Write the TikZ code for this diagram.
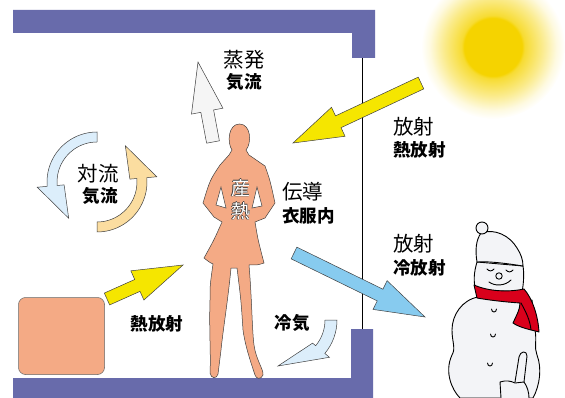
\documentclass[tikz,border=0pt]{standalone}
\usepackage{fontspec}
\setmainfont{Noto Sans CJK JP}
\usetikzlibrary{calc}

\definecolor{wall}{RGB}{104,107,171}
\definecolor{skin}{RGB}{244,170,133}
\definecolor{raysun}{RGB}{245,230,0}
\definecolor{sunyellow}{RGB}{245,211,0}
\definecolor{coldray}{RGB}{135,203,239}
\definecolor{airblue}{RGB}{220,238,251}
\definecolor{airorange}{RGB}{251,221,160}
\definecolor{vapour}{RGB}{245,245,245}
\definecolor{scarf}{RGB}{217,0,27}
\definecolor{snow}{RGB}{243,244,247}

\pgfdeclareradialshading{sunglow}{\pgfpointorigin}{color(0bp)=(sunyellow); color(10bp)=(sunyellow); color(11bp)=(sunyellow!80!white); color(17bp)=(sunyellow!45!white); color(22bp)=(sunyellow!12!white); color(25bp)=(white)}

% block arrow: style, tail, tip
\newcommand{\blockarrow}[3]{%
  \coordinate (ba) at ($(#3)!50pt!(#2)$);
  \draw[#1] ($(#2)!6.5pt!90:(#3)$) -- ($(ba)!6.5pt!90:(#3)$) -- ($(ba)!16pt!90:(#3)$) -- (#3)
    -- ($(ba)!16pt!-90:(#3)$) -- ($(ba)!6.5pt!-90:(#3)$) -- ($(#2)!6.5pt!-90:(#3)$) -- cycle;
}

\tikzset{
  arrline/.style={draw=black!75, line width=0.5pt, line join=miter},
  snowline/.style={draw=black, line width=0.9pt, line join=round, line cap=round},
  main/.style={inner sep=0pt, font=\fontsize{20.5}{24}\selectfont},
  sub/.style={inner sep=0pt, font=\fontsize{17.5}{21}\selectfont\bfseries},
  heater/.style={draw=black!60, line width=0.5pt, fill=skin, rounded corners=7pt,
    minimum width=86pt, minimum height=77pt, inner sep=0pt},
}

\begin{document}
\begin{tikzpicture}[x=1pt, y=1pt]
  \useasboundingbox (0,0) rectangle (565,-398);

  % sun
  \shade[shading=sunglow] (493,-47) circle[radius=72pt];

  % room walls and window
  \fill[wall] (13,-10) -- (375,-10) -- (375,-58) -- (352,-58) -- (352,-33) -- (13,-33) -- cycle;
  \fill[wall] (13,-378) -- (351,-378) -- (351,-329) -- (373,-329) -- (373,-398) -- (13,-398) -- cycle;
  \coordinate (wintop) at (362.5,-58);
  \coordinate (winbot) at (362.5,-329);
  \draw[line width=1.2pt] (wintop) -- (winbot);

  % heater
  \node[heater] (heater) at (61.5,-336) {};

  % convection
  \begin{scope}[shift={(97,-182)}]
    \draw[arrline, fill=airblue] (90:50) arc[start angle=90, end angle=185, radius=50pt]
      -- (185:60) -- (232:46) -- (185:33) -- (185:40)
      arc[start angle=185, end angle=90, radius=40pt] -- cycle;
    \draw[arrline, fill=airorange] (270:50) arc[start angle=270, end angle=365, radius=50pt]
      -- (5:60) -- (52:46) -- (5:33) -- (5:40)
      arc[start angle=365, end angle=270, radius=40pt] -- cycle;
  \end{scope}
  \node[main] (conv) at (98,-174) {対流};
  \node[sub] (convair) at (100,-196) {気流};

  % cold air
  \begin{scope}[shift={(285,-320)}]
    \draw[arrline, fill=airblue] (0:52) arc[start angle=0, end angle=-40, radius=52pt]
      -- (-40:58) -- (-7,-46) -- (-40:36) -- (-40:40)
      arc[start angle=-40, end angle=0, radius=40pt] -- cycle;
  \end{scope}

  % person
  \draw[arrline, fill=skin] (232,-150)
    .. controls (227,-143) and (228,-124) .. (239.5,-124)
    .. controls (251,-124) and (252,-143) .. (246,-150)
    -- (249,-155) -- (265,-166)
    .. controls (270,-180) .. (275,-203)
    -- (265,-218) -- (255,-222)
    .. controls (258,-240) .. (264,-263)
    .. controls (258,-265) .. (249,-265)
    .. controls (252,-300) and (252,-330) .. (254,-345)
    .. controls (256,-360) and (264,-370) .. (263,-375)
    .. controls (261,-380) and (256,-379) .. (255,-375)
    .. controls (250,-360) and (245,-345) .. (243,-330)
    .. controls (241,-300) .. (237,-268)
    -- (231,-268)
    .. controls (228,-300) and (223,-330) .. (221,-350)
    -- (218,-374)
    .. controls (217,-379) and (211,-379) .. (210,-373)
    .. controls (211,-355) and (209,-330) .. (210,-300)
    .. controls (210,-285) .. (213,-264)
    .. controls (209,-262) .. (204,-258)
    .. controls (214,-240) .. (222,-222)
    -- (214,-217) -- (203,-203)
    .. controls (210,-180) .. (220,-165)
    -- (229,-155) -- cycle;
  \draw[arrline, fill=white] (221,-187) -- (216,-205) -- (226,-208) -- cycle;
  \draw[arrline, fill=white] (257,-187) -- (262,-206) -- (252,-208) -- cycle;
  \foreach \dx/\dy in {0.45/0, -0.45/0, 0/0.45, 0/-0.45}
    \node[inner sep=0pt, align=center, text=black!75, font=\fontsize{19}{23}\selectfont]
      at (240.5+\dx,-199.5+\dy) {産\\熱};
  \node[inner sep=0pt, align=center, text=white, font=\fontsize{19}{23}\selectfont]
    (body) at (240.5,-199.5) {産\\熱};

  % arrows
  \coordinate (steamtail) at (213,-142);
  \coordinate (steamtip) at (198,-62);
  \blockarrow{arrline, fill=vapour}{steamtail}{steamtip}
  \coordinate (suntail) at (421,-83);
  \coordinate (suntip) at (293,-143);
  \blockarrow{arrline, fill=raysun}{suntail}{suntip}
  \coordinate (heattail) at (107,-299);
  \coordinate (heattip) at (183,-265);
  \blockarrow{arrline, fill=raysun}{heattail}{heattip}
  \coordinate (coldtail) at (294,-253);
  \coordinate (coldtip) at (425,-317);
  \blockarrow{arrline, fill=coldray}{coldtail}{coldtip}

  % labels
  \node[main] (steam) at (244,-60) {蒸発};
  \node[sub] (steamair) at (244,-82) {気流};
  \node[sub] (heatrad) at (157,-324) {熱放射};
  \node[main, anchor=west] (cond) at (282,-192) {伝導};
  \node[sub, anchor=west] (clothes) at (282,-216) {衣服内};
  \node[sub] (cool) at (292,-323) {冷気};
  \node[main, anchor=west] (rad) at (393,-127) {放射};
  \node[sub, anchor=west] (radheat) at (393,-150) {熱放射};
  \node[main, anchor=west] (radb) at (393,-244) {放射};
  \node[sub, anchor=west] (radcold) at (393,-268) {冷放射};

  % snowman
  \draw[snowline, fill=snow] (478,-297) .. controls (462,-300) and (452,-315) .. (452,-330)
    .. controls (452,-342) and (456,-348) .. (452,-355)
    .. controls (444,-372) and (452,-390) .. (460,-398) -- (533,-398)
    .. controls (540,-385) and (542,-368) .. (537,-355)
    .. controls (534,-348) and (537,-340) .. (535,-330) -- (532,-300) -- cycle;
  \draw[snowline, fill=snow] (477,-262) .. controls (474,-272) and (473,-282) .. (476,-290)
    -- (522,-292) .. controls (524,-282) and (524,-272) .. (523,-266) -- cycle;
  \draw[snowline, fill=snow] (477,-262) .. controls (475,-250) and (476,-240) .. (481,-233)
    .. controls (495,-228) and (510,-236) .. (517,-248)
    .. controls (521,-254) and (523,-260) .. (523,-266)
    .. controls (510,-264) and (490,-261) .. (477,-262) -- cycle;
  \draw[snowline, fill=snow] (482,-228) circle[radius=6pt];
  \draw[snowline] (487,-269) .. controls (489,-271.5) and (492,-271.5) .. (494,-269);
  \draw[snowline] (506,-270) .. controls (508,-272.5) and (511,-272.5) .. (513,-270);
  \draw[snowline] (499,-276) circle[radius=3.2pt];
  \draw[snowline] (489,-282) .. controls (495,-286.5) and (505,-286) .. (511,-280);
  \draw[snowline, fill=scarf] (474,-285) .. controls (490,-292) and (510,-292) .. (524,-289)
    .. controls (532,-298) and (538,-315) .. (539,-332)
    .. controls (532,-330) and (520,-328) .. (513,-323)
    .. controls (516,-316) and (520,-310) .. (520,-303)
    .. controls (505,-302) and (488,-300) .. (477,-298) -- cycle;
  \draw[snowline] (521,-303) .. controls (526,-312) and (530,-320) .. (531,-330);
  \foreach \bx/\by in {494/-309, 493/-334, 490/-363}
    \draw[snowline] (\bx-2.5,\by) .. controls (\bx-2.5,\by-4) and (\bx+2.5,\by-4) .. (\bx+2.5,\by);
  \draw[snowline, fill=snow] (515,-382) -- (519,-357)
    .. controls (520,-351) and (527,-350) .. (527,-356) -- (524,-382);
  \draw[snowline, fill=snow] (501,-398) -- (500,-382)
    .. controls (506,-380) and (511,-381) .. (515,-383) -- (524,-382)
    .. controls (527,-386) and (529,-392) .. (529,-398);
\end{tikzpicture}
\end{document}
